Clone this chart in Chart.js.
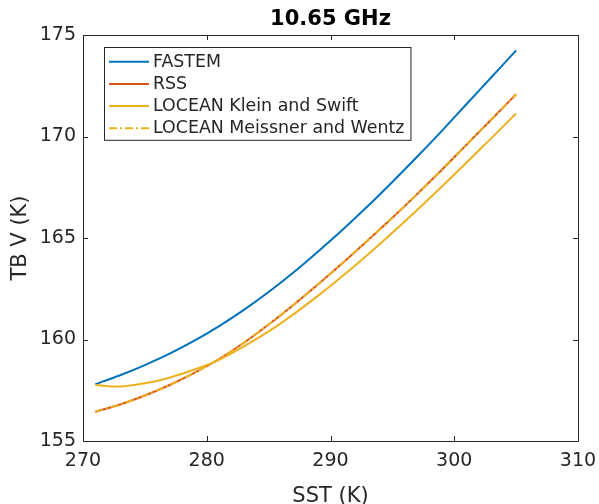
<!DOCTYPE html>
<html>
<head>
<meta charset="utf-8">
<script src="https://cdn.jsdelivr.net/npm/chart.js@4.4.1/dist/chart.umd.min.js"></script>
<style>
  html, body { margin: 0; padding: 0; background: #ffffff; }
  canvas { display: block; }
</style>
</head>
<body>
<canvas id="tbChart" width="599" height="504"></canvas>
<script>
// SST (K) sampled every 2 K
const sst = [271, 273, 275, 277, 279, 281, 283, 285, 287, 289, 291, 293, 295, 297, 299, 301, 303, 305];

// TB V (K)
const fastem = [157.80, 158.24, 158.74, 159.30, 159.94, 160.66, 161.46, 162.34, 163.30, 164.34,
                165.42, 166.56, 167.76, 169.00, 170.28, 171.60, 172.92, 174.24];
const rss = [156.44, 156.80, 157.24, 157.76, 158.36, 159.04, 159.84, 160.74, 161.70, 162.72,
             163.78, 164.88, 166.00, 167.16, 168.36, 169.60, 170.84, 172.08];
const kleinSwift = [157.76, 157.68, 157.84, 158.12, 158.52, 159.00, 159.66, 160.40, 161.24, 162.16,
                    163.14, 164.18, 165.26, 166.38, 167.54, 168.72, 169.92, 171.14];
const meissnerWentz = [156.44, 156.80, 157.24, 157.76, 158.36, 159.04, 159.84, 160.74, 161.70, 162.72,
                       163.78, 164.88, 166.00, 167.16, 168.36, 169.60, 170.84, 172.08];

const xTicks = [270, 280, 290, 300, 310];
const yTicks = [155, 160, 165, 170, 175];

const seriesNames = ['FASTEM', 'RSS', 'LOCEAN Klein and Swift', 'LOCEAN Meissner and Wentz'];

// couleurs MATLAB par defaut
const colors = ['#0072BD', '#D95319', '#EDB120', '#EDB120'];
const axisColor = '#262626';
const fontFamily = "'DejaVu Sans', sans-serif";

function toPoints(values) {
    return sst.map((x, i) => ({ x: x, y: values[i] }));
}

// boite MATLAB : cadre complet + graduations vers l'interieur
const boxPlugin = {
    id: 'matlabBox',
    afterDatasetsDraw(chart) {
        const { ctx, chartArea: a, scales } = chart;
        const tick = 5;
        ctx.save();
        ctx.strokeStyle = axisColor;
        ctx.lineWidth = 1;
        ctx.beginPath();
        ctx.rect(Math.round(a.left) + 0.5, Math.round(a.top) + 0.5,
                 Math.round(a.right - a.left), Math.round(a.bottom - a.top));
        xTicks.forEach(v => {
            const px = Math.round(scales.x.getPixelForValue(v)) + 0.5;
            ctx.moveTo(px, a.bottom); ctx.lineTo(px, a.bottom - tick);
            ctx.moveTo(px, a.top); ctx.lineTo(px, a.top + tick);
        });
        yTicks.forEach(v => {
            const py = Math.round(scales.y.getPixelForValue(v)) + 0.5;
            ctx.moveTo(a.left, py); ctx.lineTo(a.left + tick, py);
            ctx.moveTo(a.right, py); ctx.lineTo(a.right - tick, py);
        });
        ctx.stroke();
        ctx.restore();
    }
};

// legende dans le coin haut-gauche
const insideLegend = {
    id: 'insideLegend',
    afterDraw(chart, args, opts) {
        const { ctx } = chart;
        const sets = chart.data.datasets;
        ctx.save();
        ctx.font = '17.4px ' + fontFamily;
        const maxW = Math.max(...sets.map(d => ctx.measureText(d.label).width));
        const left = opts.left, top = opts.top, rowH = opts.rowHeight;
        const lineX0 = left + 5, lineX1 = left + 45, textX = left + 49;
        const width = textX + maxW + 6 - left;
        const height = rowH * sets.length + 4;
        ctx.fillStyle = '#ffffff';
        ctx.fillRect(left, top, width, height);
        ctx.strokeStyle = axisColor;
        ctx.lineWidth = 1;
        ctx.strokeRect(left + 0.5, top + 0.5, width, height);
        sets.forEach((d, i) => {
            const y = top + 14.7 + i * rowH;
            ctx.strokeStyle = d.borderColor;
            ctx.lineWidth = d.borderWidth;
            ctx.setLineDash(d.borderDash || []);
            ctx.beginPath();
            ctx.moveTo(lineX0, y);
            ctx.lineTo(lineX1, y);
            ctx.stroke();
            ctx.setLineDash([]);
            ctx.fillStyle = axisColor;
            ctx.textBaseline = 'middle';
            ctx.textAlign = 'left';
            ctx.fillText(d.label, textX, y + 0.5);
        });
        ctx.restore();
    }
};

const ctx = document.getElementById('tbChart').getContext('2d');

new Chart(ctx, {
    type: 'line',
    data: {
        datasets: [
            { label: seriesNames[0], data: toPoints(fastem), borderColor: colors[0], borderWidth: 2, order: 3 },
            { label: seriesNames[1], data: toPoints(rss), borderColor: colors[1], borderWidth: 2, order: 2 },
            { label: seriesNames[2], data: toPoints(kleinSwift), borderColor: colors[2], borderWidth: 2, order: 1 },
            { label: seriesNames[3], data: toPoints(meissnerWentz), borderColor: colors[3], borderWidth: 2,
              borderDash: [8, 3, 2, 3], order: 0 }
        ]
    },
    options: {
        responsive: false,
        animation: false,
        elements: {
            point: { radius: 0, hoverRadius: 0 },
            line: { tension: 0.3, fill: false }
        },
        layout: { padding: { left: 0, right: 21, top: 0, bottom: 0 } },
        scales: {
            x: {
                type: 'linear',
                min: 270,
                max: 310,
                afterBuildTicks: scale => { scale.ticks = xTicks.map(v => ({ value: v })); },
                afterFit: scale => {
                    scale.height = 63;
                    scale.paddingLeft = 0;
                    scale.paddingRight = 0;
                },
                grid: { display: false, drawTicks: false },
                border: { display: false },
                ticks: {
                    padding: 9,
                    color: axisColor,
                    font: { family: fontFamily, size: 19 }
                },
                title: {
                    display: true,
                    text: 'SST (K)',
                    color: axisColor,
                    font: { family: fontFamily, size: 21, lineHeight: 1 },
                    padding: { top: 0, bottom: -3 }
                }
            },
            y: {
                type: 'linear',
                min: 155,
                max: 175,
                afterBuildTicks: scale => { scale.ticks = yTicks.map(v => ({ value: v })); },
                afterFit: scale => {
                    scale.width = 83;
                    scale.paddingTop = 0;
                    scale.paddingBottom = 0;
                },
                grid: { display: false, drawTicks: false },
                border: { display: false },
                ticks: {
                    padding: 7,
                    color: axisColor,
                    font: { family: fontFamily, size: 19 }
                },
                title: {
                    display: true,
                    text: 'TB V (K)',
                    color: axisColor,
                    font: { family: fontFamily, size: 21, lineHeight: 1 },
                    padding: { top: 10, bottom: 0 }
                }
            }
        },
        plugins: {
            legend: { display: false },
            tooltip: { enabled: false },
            title: {
                display: true,
                text: '10.65 GHz',
                fullSize: false,
                color: '#000000',
                font: { family: fontFamily, size: 21, weight: 'bold', lineHeight: 1.2 },
                padding: { top: 7, bottom: 2.8 }
            },
            insideLegend: { left: 104, top: 47, rowHeight: 22.2 }
        }
    },
    plugins: [boxPlugin, insideLegend]
});
</script>
</body>
</html>
